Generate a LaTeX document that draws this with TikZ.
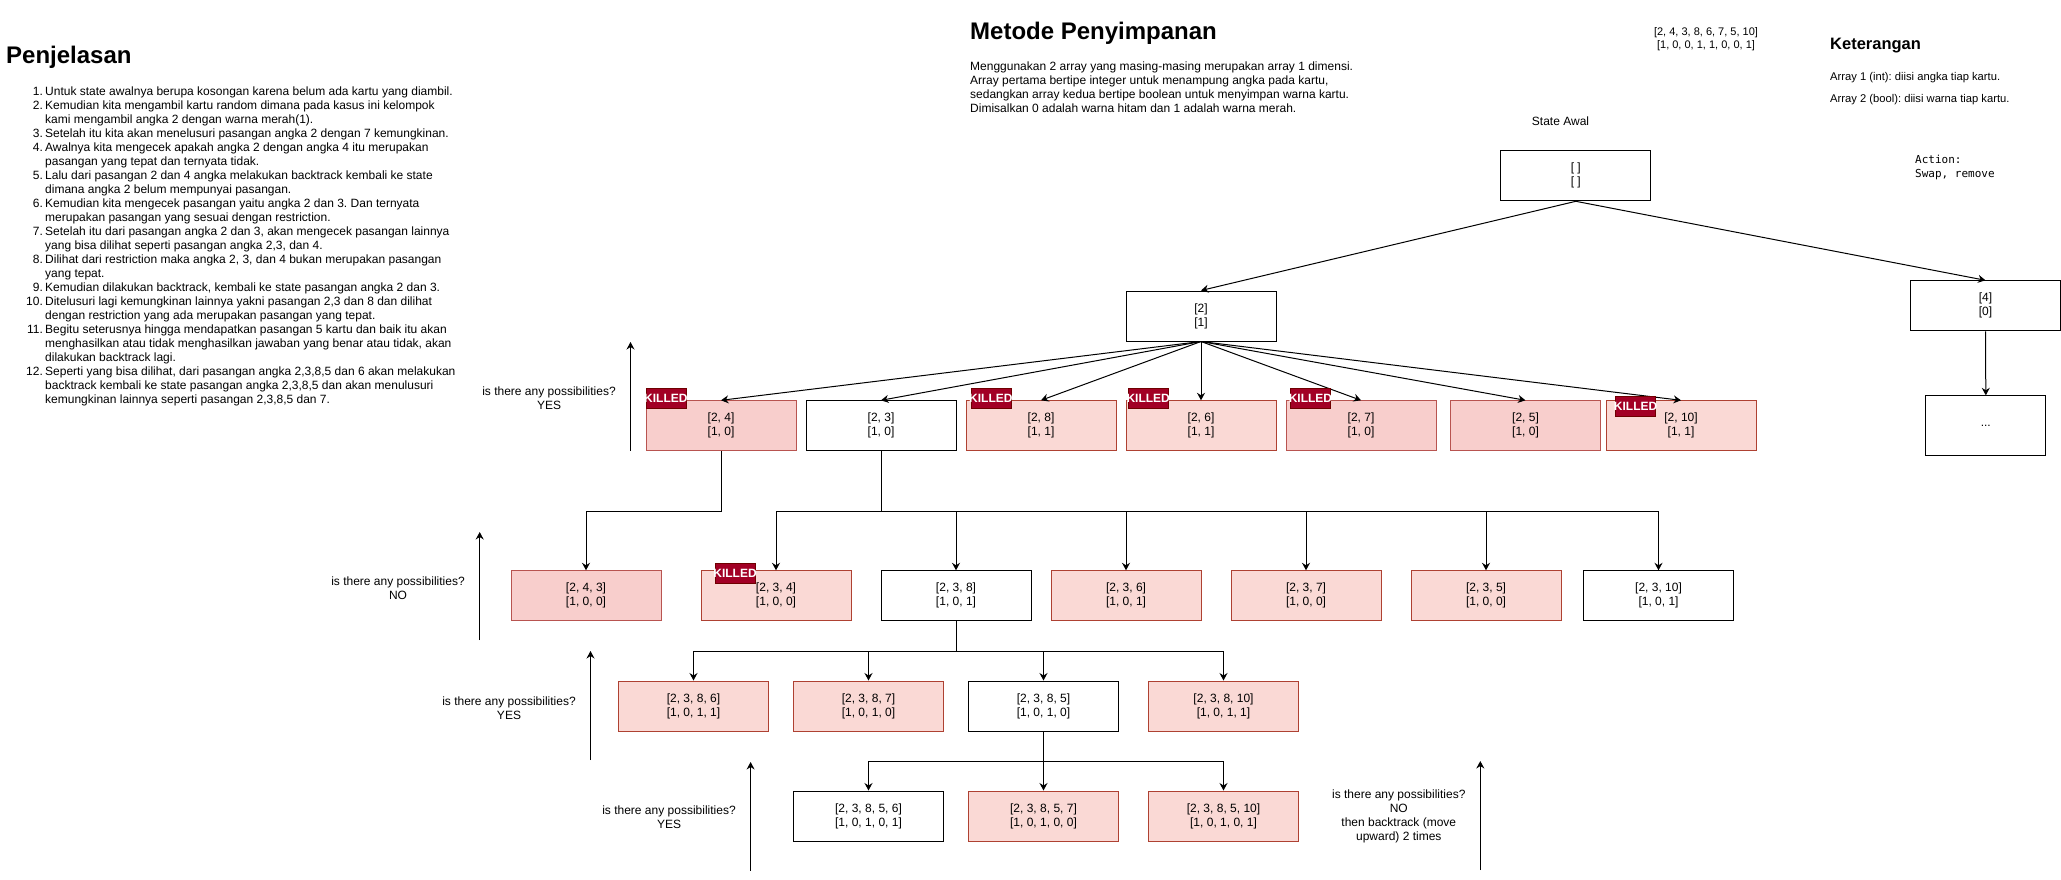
\documentclass[tikz,border=0pt]{standalone}
\usepackage{fontspec}
\setmainfont{Liberation Sans}
\newfontfamily\codefont{DejaVu Sans Mono}
\usetikzlibrary{arrows.meta}
\definecolor{pinkA}{HTML}{F8CECC}
\definecolor{redA}{HTML}{B85450}
\definecolor{pinkB}{HTML}{FAD9D5}
\definecolor{redB}{HTML}{AE4132}
\definecolor{killfill}{HTML}{A20025}
\definecolor{killdraw}{HTML}{6F0000}
\newcommand\brk{\\\relax}
\frenchspacing
\begin{document}
\begin{tikzpicture}[x=1pt,y=-1pt,
 base/.style={font=\fontsize{12}{14}\selectfont, inner sep=0pt},
 box/.style={base, draw=black, line width=1pt, fill=white, minimum width=150pt, minimum height=50pt, align=center, anchor=north west},
 boxA/.style={box, draw=redA, fill=pinkA},
 boxB/.style={box, draw=redB, fill=pinkB},
 killbox/.style={draw=killdraw, fill=killfill, line width=0.8pt, minimum width=40pt, minimum height=20pt, inner sep=0pt, anchor=north west},
 killtext/.style={text=white, font=\fontsize{12}{14}\selectfont\bfseries, inner sep=0pt},
 arr/.style={line width=1pt, -{Stealth[length=7.5pt,width=8pt,inset=2.5pt]}},
 note/.style={base, align=center},
]
\useasboundingbox (0,0) rectangle (2061,879);

% ---------- left explanation ----------
\node[anchor=base west, inner sep=0pt, font=\fontsize{24}{28}\selectfont\bfseries] (tpenj) at (6,63.3) {Penjelasan};
\node[base, anchor=base west] (list) at (26,95.5) {\begin{tabular}[t]{@{}r@{\hspace{2.3pt}}l@{}}
1. & Untuk state awalnya berupa kosongan karena belum ada kartu yang diambil.\\
2. & Kemudian kita mengambil kartu random dimana pada kasus ini kelompok\\
 & kami mengambil angka 2 dengan warna merah(1).\\
3. & Setelah itu kita akan menelusuri pasangan angka 2 dengan 7 kemungkinan.\\
4. & Awalnya kita mengecek apakah angka 2 dengan angka 4 itu merupakan\\
 & pasangan yang tepat dan ternyata tidak.\\
5. & Lalu dari pasangan 2 dan 4 angka melakukan backtrack kembali ke state\\
 & dimana angka 2 belum mempunyai pasangan.\\
6. & Kemudian kita mengecek pasangan yaitu angka 2 dan 3. Dan ternyata\\
 & merupakan pasangan yang sesuai dengan restriction.\\
7. & Setelah itu dari pasangan angka 2 dan 3, akan mengecek pasangan lainnya\\
 & yang bisa dilihat seperti pasangan angka 2,3, dan 4.\\
8. & Dilihat dari restriction maka angka 2, 3, dan 4 bukan merupakan pasangan\\
 & yang tepat.\\
9. & Kemudian dilakukan backtrack, kembali ke state pasangan angka 2 dan 3.\\
10. & Ditelusuri lagi kemungkinan lainnya yakni pasangan 2,3 dan 8 dan dilihat\\
 & dengan restriction yang ada merupakan pasangan yang tepat.\\
11. & Begitu seterusnya hingga mendapatkan pasangan 5 kartu dan baik itu akan\\
 & menghasilkan atau tidak menghasilkan jawaban yang benar atau tidak, akan\\
 & dilakukan backtrack lagi.\\
12. & Seperti yang bisa dilihat, dari pasangan angka 2,3,8,5 dan 6 akan melakukan\\
 & backtrack kembali ke state pasangan angka 2,3,8,5 dan akan menulusuri\\
 & kemungkinan lainnya seperti pasangan 2,3,8,5 dan 7.
\end{tabular}};

% ---------- top middle ----------
\node[anchor=base west, inner sep=0pt, font=\fontsize{24}{28}\selectfont\bfseries] (tmet) at (970,39.3) {Metode Penyimpanan};
\node[base, anchor=base west] (metpar) at (970,70.5) {\begin{tabular}[t]{@{}l@{}}
Menggunakan 2 array yang masing-masing merupakan array 1 dimensi.\\
Array pertama bertipe integer untuk menampung angka pada kartu,\\
sedangkan array kedua bertipe boolean untuk menyimpan warna kartu.\\
Dimisalkan 0 adalah warna hitam dan 1 adalah warna merah.
\end{tabular}};

\node[note, font=\fontsize{11}{12.5}\selectfont] (arrays) at (1706,39.3) {[2, 4, 3, 8, 6, 7, 5, 10]\brk[1, 0, 0, 1, 1, 0, 0, 1]};

\node[anchor=base west, inner sep=0pt, font=\fontsize{16.5}{20}\selectfont\bfseries] (tket) at (1830,49.3) {Keterangan};
\node[anchor=base west, inner sep=0pt, font=\fontsize{11.2}{13}\selectfont] (ket1) at (1830,80) {Array 1 (int): diisi angka tiap kartu.};
\node[anchor=base west, inner sep=0pt, font=\fontsize{11.2}{13}\selectfont] (ket2) at (1830,102.8) {Array 2 (bool): diisi warna tiap kartu.};
\node[anchor=base west, inner sep=0pt, font=\fontsize{11}{14}\codefont] (action) at (1915,163.5) {\begin{tabular}[t]{@{}l@{}}Action:\\Swap, remove\end{tabular}};

\node[base, anchor=base] (stawal) at (1560.5,125) {State Awal};

% ---------- tree boxes ----------
\node[box] (root) at (1500.3,150.3) {[ ]\brk[ ]};
\node[box] (n2) at (1125.5,290.5) {[2]\brk[1]};
\node[box] (n4) at (1910,280.3) {[4]\brk[0]};
\node[box, minimum width=120pt, minimum height=60pt] (dots) at (1925.3,395.3) {...};

\node[boxA] (n24) at (645.5,400.3) {[2, 4]\brk[1, 0]};
\node[box]  (n23) at (805.5,400.3) {[2, 3]\brk[1, 0]};
\node[boxB] (n28) at (965.5,400.3) {[2, 8]\brk[1, 1]};
\node[boxB] (n26) at (1125.5,400.3) {[2, 6]\brk[1, 1]};
\node[boxA] (n27) at (1285.5,400.3) {[2, 7]\brk[1, 0]};
\node[boxA] (n25) at (1450,400.3) {[2, 5]\brk[1, 0]};
\node[boxB] (n210) at (1605.5,400.3) {[2, 10]\brk[1, 1]};

\node[boxA] (n243) at (510.5,570.3) {[2, 4, 3]\brk[1, 0, 0]};
\node[boxB] (n234) at (700.5,570.3) {[2, 3, 4]\brk[1, 0, 0]};
\node[box]  (n238) at (880.5,570.3) {[2, 3, 8]\brk[1, 0, 1]};
\node[boxB] (n236) at (1050.5,570.3) {[2, 3, 6]\brk[1, 0, 1]};
\node[boxB] (n237) at (1230.5,570.3) {[2, 3, 7]\brk[1, 0, 0]};
\node[boxB] (n235) at (1410.5,570.3) {[2, 3, 5]\brk[1, 0, 0]};
\node[box]  (n2310) at (1583,570.3) {[2, 3, 10]\brk[1, 0, 1]};

\node[boxB] (n2386) at (618,680.5) {[2, 3, 8, 6]\brk[1, 0, 1, 1]};
\node[boxB] (n2387) at (793,680.5) {[2, 3, 8, 7]\brk[1, 0, 1, 0]};
\node[box]  (n2385) at (968,680.5) {[2, 3, 8, 5]\brk[1, 0, 1, 0]};
\node[boxB] (n23810) at (1148,680.5) {[2, 3, 8, 10]\brk[1, 0, 1, 1]};

\node[box]  (n23856) at (793,790.5) {[2, 3, 8, 5, 6]\brk[1, 0, 1, 0, 1]};
\node[boxB] (n23857) at (968,790.5) {[2, 3, 8, 5, 7]\brk[1, 0, 1, 0, 0]};
\node[boxB] (n238510) at (1148,790.5) {[2, 3, 8, 5, 10]\brk[1, 0, 1, 0, 1]};

% ---------- edges ----------
\draw[arr] (root.south) -- (n2.north);
\draw[arr] (root.south) -- (n4.north);
\draw[arr] (n4.south) -- (dots.north);
\foreach \c in {n24,n23,n28,n26,n27,n25,n210}
  \draw[arr] (n2.south) -- (\c.north);
\draw[arr] (n24.south) -- ++(0,60) -| (n243.north);
\foreach \c in {n234,n238,n236,n237,n235,n2310}
  \draw[arr] (n23.south) -- ++(0,60) -| (\c.north);
\foreach \c in {n2386,n2387,n2385,n23810}
  \draw[arr] (n238.south) -- ++(0,30) -| (\c.north);
\foreach \c in {n23856,n23857,n238510}
  \draw[arr] (n2385.south) -- ++(0,30) -| (\c.north);

% ---------- KILLED labels ----------
\node[killbox] (k24) at (645.5,387.5) {};
\node[killbox] (k28) at (970.5,387.5) {};
\node[killbox] (k26) at (1127.8,387.5) {};
\node[killbox] (k27) at (1290,387.5) {};
\node[killbox] (k210) at (1615.2,395.5) {};
\node[killbox] (k234) at (714.6,563) {};
\foreach \k in {k24,k28,k26,k27,k210,k234}
  \node[killtext] (t\k) at (\k.center) {KILLED};

% ---------- side annotations ----------
\node[note] (q1) at (549,398) {is there any possibilities?\brk YES};
\coordinate (a1s) at (630.5,450.5);
\coordinate (a1e) at (630.5,342);
\draw[arr] (a1s) -- (a1e);

\node[note] (q2) at (398,588) {is there any possibilities?\brk NO};
\coordinate (a2s) at (479.7,640);
\coordinate (a2e) at (479.7,532);
\draw[arr] (a2s) -- (a2e);

\node[note] (q3) at (509,708) {is there any possibilities?\brk YES};
\coordinate (a3s) at (590.5,760);
\coordinate (a3e) at (590.5,651);
\draw[arr] (a3s) -- (a3e);

\node[note] (q4) at (669,817.5) {is there any possibilities?\brk YES};
\coordinate (a4s) at (750.6,870.5);
\coordinate (a4e) at (750.6,762);
\draw[arr] (a4s) -- (a4e);

\node[note] (q5) at (1398.8,816) {is there any possibilities?\brk NO\brk then backtrack (move\brk upward) 2 times};
\coordinate (a5s) at (1480.3,870);
\coordinate (a5e) at (1480.3,761);
\draw[arr] (a5s) -- (a5e);
\end{tikzpicture}
\end{document}
